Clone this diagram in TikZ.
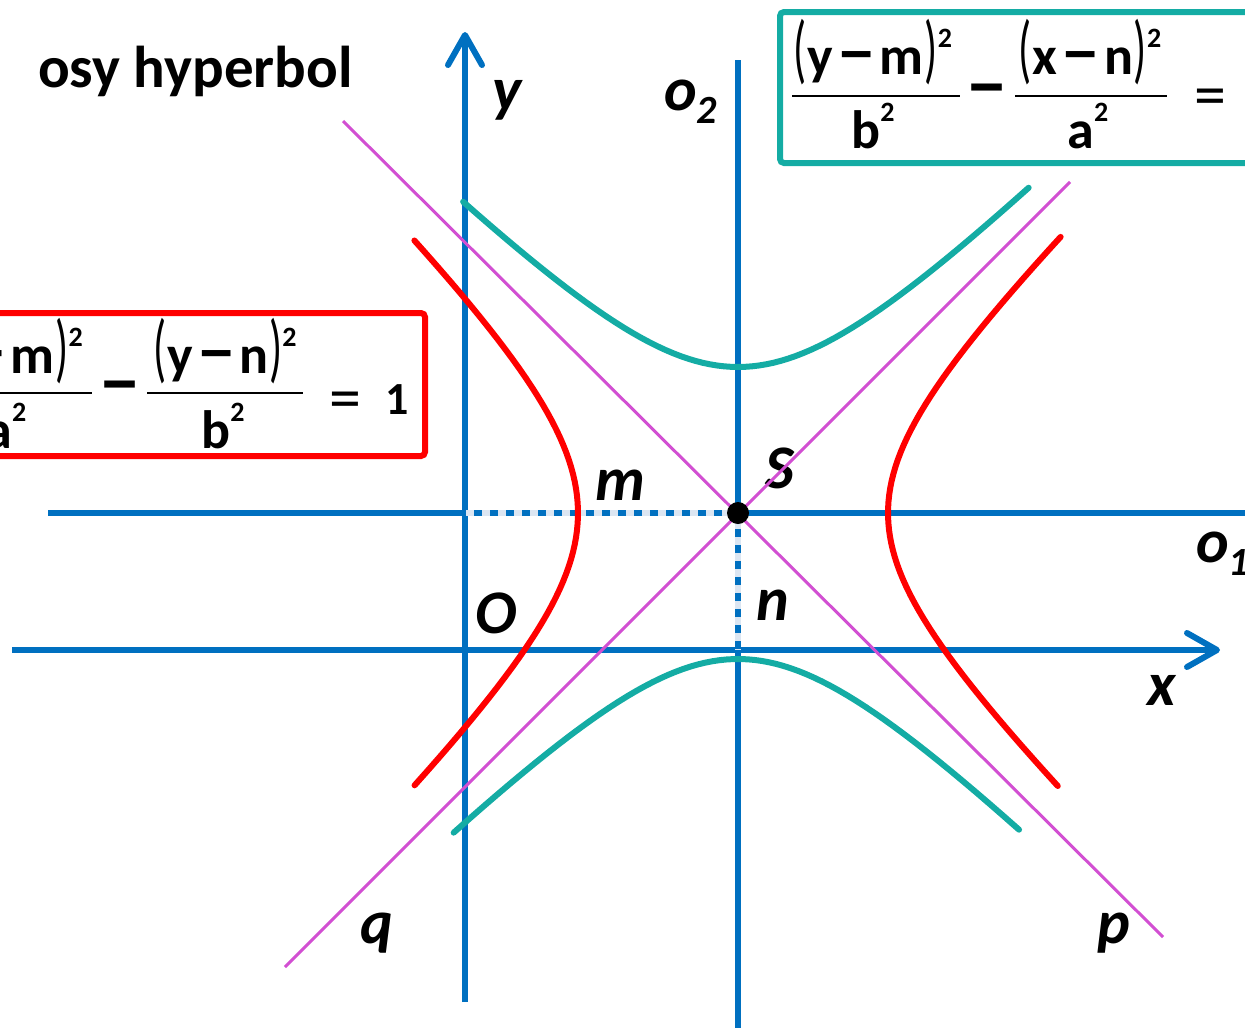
\documentclass[tikz,border=0pt]{standalone}
\usepackage{graphicx}
\usepackage{fontspec}
\setmainfont{Carlito}
\usetikzlibrary{arrows.meta}
\definecolor{axblue}{HTML}{0070C0}
\definecolor{dotblue}{HTML}{DCE6F2}
\definecolor{hyteal}{HTML}{14ACA4}
\definecolor{hyred}{HTML}{FF0000}
\definecolor{asymag}{HTML}{D24FD2}
% zavorky, minus a mocnina
\newcommand{\lp}{\scalebox{0.8}[1.4]{\mdseries(}\kern1pt}
\newcommand{\rp}{\kern1pt\scalebox{0.8}[1.4]{\mdseries)}}
\newcommand{\mn}{\kern3pt\scalebox{1.5}[1.3]{–}\kern3pt}
\newcommand{\sq}{\raisebox{0.5em}{\fontsize{28}{28}\selectfont 2}}
\begin{document}
\begin{tikzpicture}[x=1pt,y=-1pt,
  axis/.style={axblue, line width=6pt},
  axarrow/.style={-{Straight Barb[length=30pt,width=34pt,line cap=round,line join=round]}},
  guide/.style={axblue, line width=6pt, dash pattern=on 8pt off 8pt},
  asym/.style={asymag, line width=3pt},
  hyp/.style={line width=6pt, line cap=round},
  lbl/.style={font=\fontsize{62}{62}\selectfont\bfseries\itshape, inner sep=0pt, anchor=base},
  eqt/.style={font=\fontsize{54}{58}\selectfont\bfseries, inner sep=0pt, anchor=base},
  eqs/.style={font=\fontsize{64}{64}\selectfont, inner sep=0pt, anchor=base},
  fracbar/.style={line width=2pt},
  eqbox/.style={line width=6pt, rounded corners=4pt}]
  \useasboundingbox (0,0) rectangle (1245,1028);
  \clip (0,0) rectangle (1245,1028);
  % body souradnic
  \coordinate (S) at (738,513);
  \coordinate (Sm) at (465,513);
  \coordinate (Sn) at (738,650);
  % osy x, y
  \draw[axis, axarrow] (12,650) -- (1220,650);
  \draw[axis, axarrow] (465,1002) -- (465,32);
  % posunute osy o1, o2
  \draw[axis] (48,513) -- (1250,513);
  \draw[axis] (738,60) -- (738,1030);
  % souradnice stredu S
  \draw[dotblue, line width=6pt] (Sm) -- (S) -- (Sn);
  \draw[guide] (S) -- (Sm);
  \draw[guide] (S) -- (Sn);
  % hyperbola s hlavni osou o1
  \draw[hyp, hyred] plot[domain=-1.33:1.33, samples=60, variable=\t]
    ({738-160*cosh(\t)},{513+155*sinh(\t)});
  \draw[hyp, hyred] plot[domain=-1.40:1.39, samples=60, variable=\t]
    ({738+150*cosh(\t)},{513+145*sinh(\t)});
  % hyperbola s hlavni osou o2
  \draw[hyp, hyteal] plot[domain=-1.39:1.44, samples=60, variable=\t]
    ({738+146*sinh(\t)},{513-146*cosh(\t)});
  \draw[hyp, hyteal] plot[domain=-1.42:1.41, samples=60, variable=\t]
    ({738+146*sinh(\t)},{513+146*cosh(\t)});
  % popisky
  \node[font=\fontsize{59}{62}\selectfont\bfseries, inner sep=0pt, anchor=base west] (title) at (38,87) {osy hyperbol};
  \node[lbl] (ly) at (507,110) {y};
  \node[lbl, anchor=base west] (lo2) at (664,110) {o\raisebox{-13pt}{\fontsize{40}{40}\selectfont 2}};
  \node[lbl] (lx) at (1162,705) {x};
  \node[lbl, anchor=base west] (lo1) at (1196,562) {o\raisebox{-13pt}{\fontsize{40}{40}\selectfont 1}};
  \node[lbl] (lm) at (620,500) {m};
  \node[lbl] (ln) at (773,620) {n};
  \node[lbl] (lS) at (780,488) {S};
  \node[lbl] (lO) at (496,633) {O};
  \node[lbl] (lq) at (377,943) {q};
  \node[lbl] (lp) at (1114,943) {p};
  % asymptoty p, q
  \draw[asym] (343,121) -- (1163,937);
  \draw[asym] (285,967) -- (1070,182);
  % stred S
  \fill (S) circle (11pt);
  % rovnice hyperboly s osou o2
  \draw[eqbox, hyteal] (780,12) rectangle (1265,163);
  \node[eqt] (num1) at (873,74) {\lp y\mn m\rp\sq};
  \draw[fracbar] (792,96) -- (960,96);
  \node[eqt] (den1) at (873,148) {b\sq};
  \node[eqt] (minus1) at (987,110) {\scalebox{1.6}[1.5]{–}};
  \node[eqt] (num2) at (1090,74) {\lp x\mn n\rp\sq};
  \draw[fracbar] (1015,96) -- (1167,96);
  \node[eqt] (den2) at (1088,148) {a\sq};
  \node[eqs] (equal1) at (1210,116) {=};
  % rovnice hyperboly s osou o1
  \draw[eqbox, hyred] (-20,313) rectangle (425,456);
  \node[eqt] (num3) at (4,373) {\lp x\mn m\rp\sq};
  \draw[fracbar] (-76,393) -- (92,393);
  \node[eqt] (den3) at (6,448) {a\sq};
  \node[eqt] (minus2) at (120,407) {\scalebox{1.6}[1.5]{–}};
  \node[eqt] (num4) at (225,373) {\lp y\mn n\rp\sq};
  \draw[fracbar] (147,393) -- (303,393);
  \node[eqt] (den4) at (223,448) {b\sq};
  \node[eqs] (equal2) at (345,419) {=};
  \node[eqt, font=\fontsize{46}{50}\selectfont\bfseries] (one) at (397,414) {1};
\end{tikzpicture}
\end{document}
